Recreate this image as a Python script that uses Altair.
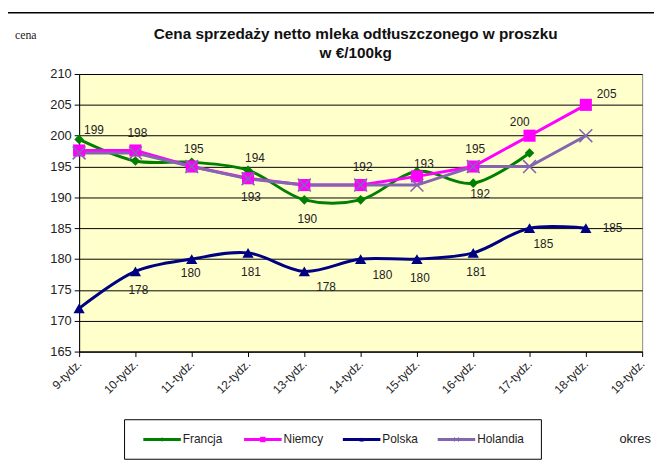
import altair as alt
import pandas as pd

# ---- data ----
weeks = ["9-tydz.", "10-tydz.", "11-tydz.", "12-tydz.", "13-tydz.", "14-tydz.",
         "15-tydz.", "16-tydz.", "17-tydz.", "18-tydz.", "19-tydz."]
series_names = ["Francja", "Niemcy", "Polska", "Holandia"]
francja = [199.4, 195.9, 195.7, 194.4, 189.6, 189.6, 194.2, 192.3, 197.2, None, None]
niemcy = [197.6, 197.6, 195.0, 193.1, 192.0, 192.0, 193.4, 195.0, 200.0, 205.0, None]
polska = [172.0, 178.0, 180.0, 181.0, 178.0, 180.0, 180.0, 181.0, 185.0, 185.0, None]
holandia = [197.2, 197.2, 195.0, 193.0, 192.0, 192.0, 192.0, 195.0, 195.0, 200.0, None]
y_ticks = [165, 170, 175, 180, 185, 190, 195, 200, 205, 210]
title_lines = ["Cena sprzedaży netto mleka  odtłuszczonego w proszku", "w €/100kg"]

# data labels: (series, week index, placement)
labels = [
    ("Francja", 0, "upright"), ("Francja", 3, "upright_near"), ("Francja", 4, "below"),
    ("Francja", 7, "belowright_near"),
    ("Niemcy", 1, "above"), ("Niemcy", 2, "above"), ("Niemcy", 3, "below"),
    ("Niemcy", 5, "above"), ("Niemcy", 6, "upright_near"), ("Niemcy", 7, "above"),
    ("Niemcy", 8, "aboveleft"), ("Niemcy", 9, "farupright"),
    ("Polska", 1, "below"), ("Polska", 2, "below_near"), ("Polska", 3, "below"),
    ("Polska", 4, "belowright"), ("Polska", 5, "belowright"), ("Polska", 6, "below"),
    ("Polska", 7, "below"), ("Polska", 8, "belowright_mid"), ("Polska", 9, "right"),
]

# ---- styling ----
colors = ["#008000", "#ff00ff", "#000080", "#8466b0"]
placements = {
    "above": (2, -18), "below": (3, 19), "below_near": (-1, 14),
    "upright": (15, -9), "upright_near": (7, -12), "farupright": (21, -11),
    "aboveleft": (-10, -14), "belowright": (22, 16), "belowright_near": (7, 11),
    "belowright_mid": (14, 16), "right": (27, 0),
}
FONT = "Liberation Sans"

values_by_series = {"Francja": francja, "Niemcy": niemcy, "Polska": polska, "Holandia": holandia}
rows = []
for s in series_names:
    for w, v in zip(weeks, values_by_series[s]):
        if v is not None:
            rows.append({"series": s, "week": w, "value": v})
df = pd.DataFrame(rows)

lab_rows = []
for s, i, p in labels:
    v = values_by_series[s][i]
    lab_rows.append({"series": s, "week": weeks[i], "value": v, "label": f"{round(v):d}", "place": p})
labdf = pd.DataFrame(lab_rows)

x_enc = alt.X("week:O", scale=alt.Scale(domain=weeks, type="point", padding=0),
              axis=alt.Axis(labelAngle=-45, labelAlign="right", labelBaseline="middle",
                            title=None, tickSize=5, tickColor="black", domainColor="black",
                            labelFontSize=12, labelFont=FONT, labelColor="#222", labelPadding=5,
                            labelOverlap=False, grid=False))
y_enc = alt.Y("value:Q", scale=alt.Scale(domain=[165, 210], nice=False, zero=False),
              axis=alt.Axis(values=y_ticks, tickCount=len(y_ticks), title=None, grid=True,
                            gridColor="black", gridWidth=1, tickSize=5, tickColor="black",
                            domainColor="black", labelFontSize=13, labelFont=FONT,
                            labelColor="#222", labelPadding=3, labelOverlap=False,
                            labelFlush=False))
color_enc = alt.Color("series:N", scale=alt.Scale(domain=series_names, range=colors), legend=None)

base = alt.Chart(df)
smooth = base.transform_filter(alt.FieldOneOfPredicate(field="series", oneOf=["Francja", "Polska"])) \
    .mark_line(interpolate="catmull-rom", strokeWidth=3).encode(x=x_enc, y=y_enc, color=color_enc)
straight = base.transform_filter(alt.FieldOneOfPredicate(field="series", oneOf=["Niemcy", "Holandia"])) \
    .mark_line(strokeWidth=3).encode(x=x_enc, y=y_enc, color=color_enc)


def pts(name, shape, size, filled=True, sw=1):
    return base.transform_filter(alt.datum.series == name).mark_point(
        shape=shape, size=size, filled=filled, opacity=1, strokeWidth=sw
    ).encode(x=x_enc, y=y_enc, color=color_enc)


p_fr = pts("Francja", "diamond", 95)
p_ni = pts("Niemcy", "square", 150)
p_po = pts("Polska", "triangle-up", 130)
p_ho = pts("Holandia", "M-1,-1L1,1M-1,1L1,-1", 170, filled=False, sw=1.6)

text_layers = []
for p, (dx, dy) in placements.items():
    sub = labdf[labdf["place"] == p]
    if len(sub) == 0:
        continue
    text_layers.append(
        alt.Chart(sub).mark_text(dx=dx, dy=dy, fontSize=12, font=FONT, color="#222",
                                 align="center", baseline="middle")
        .encode(x=x_enc, y=y_enc, text="label:N")
    )

# ---- legend (drawn manually, Excel style) ----
one = pd.DataFrame({"a": [0]})
LEG_Y = 370
legend_layers = [
    alt.Chart(one).mark_rect(fill="white", stroke="black", strokeWidth=1).encode(
        x=alt.value(46), x2=alt.value(468), y=alt.value(350), y2=alt.value(390))
]
legend_x = [65, 167, 267, 363]
legend_shapes = [("diamond", 20, True), ("square", 30, True), ("triangle-up", 20, True),
                 ("M-1,-1L1,1M-1,1L1,-1", 20, False)]
for name, col, lx, (shp, sz, fl) in zip(series_names, colors, legend_x, legend_shapes):
    legend_layers.append(alt.Chart(one).mark_rule(color=col, strokeWidth=3).encode(
        x=alt.value(lx), x2=alt.value(lx + 38), y=alt.value(LEG_Y)))
    legend_layers.append(alt.Chart(one).mark_point(shape=shp, size=sz, filled=fl, color=col,
                                                   opacity=1, strokeWidth=1).encode(
        x=alt.value(lx + 19), y=alt.value(LEG_Y)))
    legend_layers.append(alt.Chart(one).mark_text(text=name, fontSize=12, font=FONT, color="#222",
                                                  align="left", baseline="middle").encode(
        x=alt.value(lx + 40), y=alt.value(LEG_Y)))

# ---- decorations: outer frame, title, axis captions ----
deco = [
    alt.Chart(one).mark_rule(color="black", strokeWidth=1.5).encode(
        x=alt.value(-73), x2=alt.value(700), y=alt.value(-62)),
    alt.Chart(one).mark_rule(color="black", strokeWidth=1.5).encode(
        x=alt.value(-73), y=alt.value(-62), y2=alt.value(500)),
    alt.Chart(one).mark_text(text=title_lines[0], fontSize=15.5, font=FONT, fontWeight="bold",
                             color="#111", align="center", baseline="middle").encode(
        x=alt.value(280), y=alt.value(-40)),
    alt.Chart(one).mark_text(text=title_lines[1], fontSize=15.5, font=FONT, fontWeight="bold",
                             color="#111", align="center", baseline="middle").encode(
        x=alt.value(280), y=alt.value(-21)),
    alt.Chart(one).mark_text(text="cena", fontSize=12, font="Liberation Serif", color="#222",
                             align="left", baseline="middle").encode(
        x=alt.value(-65), y=alt.value(-39)),
    alt.Chart(one).mark_text(text="okres", fontSize=13, font=FONT, color="#222",
                             align="left", baseline="middle").encode(
        x=alt.value(547), y=alt.value(LEG_Y)),
]

chart = alt.layer(
    smooth, straight, p_fr, p_ni, p_po, p_ho, *text_layers, *legend_layers, *deco
).properties(
    width=570, height=281,
    autosize=alt.AutoSizeParams(type="none"),
    padding={"left": 72, "top": 64, "right": 12, "bottom": 112},
    background="white",
).configure_view(
    fill="#ffffcc", stroke="#888888", strokeWidth=1
)

chart.save("out.html", embed_options={"renderer": "svg", "actions": False})
